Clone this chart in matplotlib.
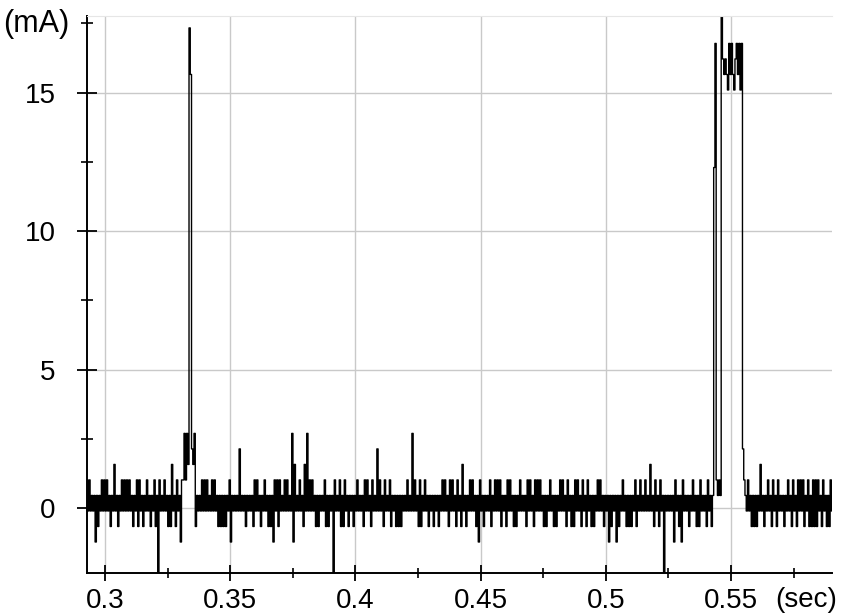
import numpy as np
import matplotlib
matplotlib.use('Agg')
import matplotlib.pyplot as plt
from matplotlib.ticker import MultipleLocator

# current trace, one code per sample (0.5 ms apart)
# digits are the quantised baseline levels, letters the high levels of the two bursts
t_start = 0.2928
dt = 0.0005
trace_rows = [
    "6464545253" "5464646453" "5474535464" "6464645354" "6364535464",
    "5354635064" "5464535374" "5364526696" "97fc879354" "5464646454",
    "6464535353" "5354625454" "5484545354" "5453646453" "5464535352",
    "6463645464" "6454927454" "6453749464" "6453535454" "6353545064",
    "5463536453" "5453546454" "5364645364" "5484645364" "5463545353",
    "5354546454" "9464536354" "6453545354" "5354646453" "6464536453",
    "7453546464" "5352645354" "5463546464" "6354536464" "5353546454",
    "5364645364" "6464535354" "6453535464" "6453645353" "6464536453",
    "6453535464" "6453545253" "5452535464" "5353535463" "5464546454",
    "7453645364" "5054545452" "6453526454" "5354645353" "6454536453",
    "5ae6565gdc" "dcbececbde" "cebe865464" "5353535474" "5354645364",
    "5364545354" "6453645364" "6463546353" "6363645364" "535364",
]
levels_mA = {
    '0': -2.45, '1': -1.78, '2': -1.22, '3': -0.66, '4': -0.10,
    '5': 0.46, '6': 1.02, '7': 1.58, '8': 2.14, '9': 2.70,
    'a': 12.3, 'b': 15.10, 'c': 15.66, 'd': 16.22, 'e': 16.78,
    'f': 17.34, 'g': 17.90,
}

x_major = [0.3, 0.35, 0.4, 0.45, 0.5, 0.55]
x_labels = ['0.3', '0.35', '0.4', '0.45', '0.5', '0.55']
y_major = [0, 5, 10, 15]

codes = ''.join(trace_rows)
current = np.array([levels_mA[c] for c in codes])
t = t_start + dt * np.arange(len(current))

plt.rcParams['font.family'] = ['Liberation Sans', 'DejaVu Sans']
plt.rcParams['path.simplify'] = False

fig = plt.figure(figsize=(8.41, 6.16), dpi=100)
ax = fig.add_axes([0.1034, 0.0698, 0.8859, 0.9042])

ax.plot(t, current, color='black', lw=1.0, drawstyle='steps-mid', snap=False)

ax.set_xlim(0.2928, 0.5903)
ax.set_ylim(-2.34, 17.77)

ax.set_xticks(x_major)
ax.set_xticklabels(x_labels)
ax.xaxis.set_minor_locator(MultipleLocator(0.025))
ax.set_yticks(y_major)
ax.yaxis.set_minor_locator(MultipleLocator(2.5))

ax.grid(True, which='major', color='#c9c9c9', lw=1.0)
ax.set_axisbelow(True)

ax.tick_params(axis='both', which='major', direction='inout', width=1.3,
               labelsize=20, color='black')
ax.tick_params(axis='y', which='major', length=15, pad=15)
ax.tick_params(axis='x', which='major', length=11, pad=5)
ax.tick_params(axis='y', which='minor', direction='inout', length=8, width=1.2)
ax.tick_params(axis='x', which='minor', direction='inout', length=7, width=1.2)

ax.spines['left'].set_linewidth(1.4)
ax.spines['bottom'].set_linewidth(1.4)
ax.spines['right'].set_visible(False)
ax.spines['top'].set_color('#e6e6e6')

fig.text(0.004, 0.961, '(mA)', fontsize=22, ha='left', va='center')
fig.text(0.995, 0.026, '(sec)', fontsize=20, ha='right', va='center')

plt.savefig('out.png', dpi=100)
